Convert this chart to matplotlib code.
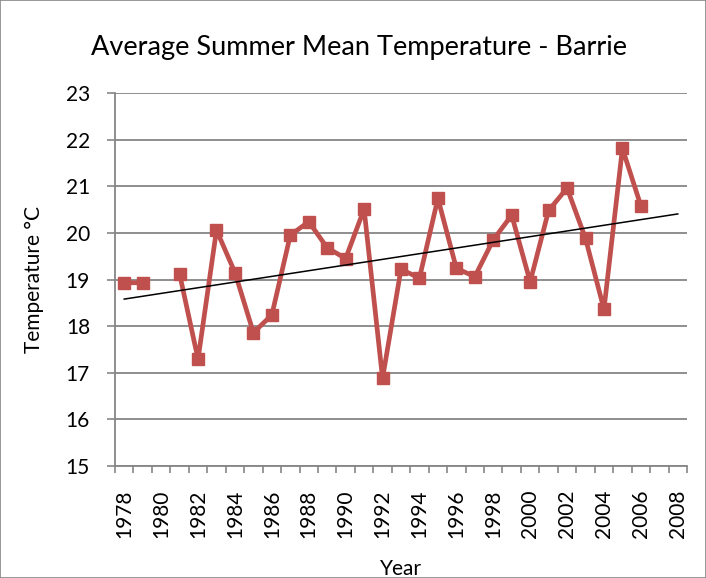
import numpy as np
import matplotlib.pyplot as plt
from matplotlib.patches import Rectangle

# data (1980 missing)
years = list(range(1978, 2009))
temps = [18.93, 18.93, np.nan, 19.12, 17.29, 20.06, 19.15, 17.86, 18.24, 19.95,
         20.24, 19.68, 19.45, 20.51, 16.88, 19.22, 19.03, 20.74, 19.24, 19.06,
         19.85, 20.38, 18.95, 20.48, 20.96, 19.88, 18.36, 21.81, 20.58, np.nan,
         np.nan]
year_labels = [str(y) for y in years[::2]]

plt.rcParams['font.family'] = ['Lato', 'DejaVu Sans']

x = np.array(years, dtype=float)
y = np.array(temps, dtype=float)
ok = ~np.isnan(y)

# linear trend over the observed years, drawn across the whole axis
coef = np.polyfit(x[ok], y[ok], 1)
trend = np.polyval(coef, x)

fig = plt.figure(figsize=(7.06, 5.78), dpi=100)
fig.patches.append(Rectangle((0, 0), 1, 1, transform=fig.transFigure,
                             fill=False, edgecolor='#868686', linewidth=1.2))
ax = fig.add_axes([115 / 706, 1 - 466 / 578, 572 / 706, 373 / 578])

grid_col = '#868686'
ax.set_ylim(15, 23)
ax.set_yticks(range(15, 24))
ax.grid(axis='y', color=grid_col, linewidth=1.3)
ax.set_axisbelow(True)

ax.plot(x, y, color='#C0504D', linewidth=3.4, marker='s', markersize=8,
        zorder=3)
ax.plot(x, trend, color='black', linewidth=1.1, zorder=4)

ax.set_xlim(years[0] - 0.5, years[-1] + 0.5)
ax.set_xticks(np.arange(years[0] - 0.5, years[-1] + 1, 1))
ax.set_xticklabels([])
ax.set_xticks(years[::2], minor=True)
ax.set_xticklabels(year_labels, minor=True, rotation=90, fontsize=15)
ax.tick_params(axis='x', which='major', length=5, color=grid_col, width=1.2)
ax.tick_params(axis='x', which='minor', length=0, pad=17)
ax.tick_params(axis='y', labelsize=15, length=6, color=grid_col, width=1.2,
               pad=12)

for s in ['top', 'right']:
    ax.spines[s].set_visible(False)
for s in ['left', 'bottom']:
    ax.spines[s].set_color(grid_col)
    ax.spines[s].set_linewidth(1.3)

ax.set_ylabel('Temperature °C', fontsize=15, labelpad=16)
ax.set_xlabel('Year', fontsize=15, labelpad=15)
fig.text(359 / 706, 1 - 48 / 578, 'Average Summer Mean Temperature - Barrie',
         ha='center', va='center', fontsize=19.5)

fig.savefig('out.png', dpi=100)
